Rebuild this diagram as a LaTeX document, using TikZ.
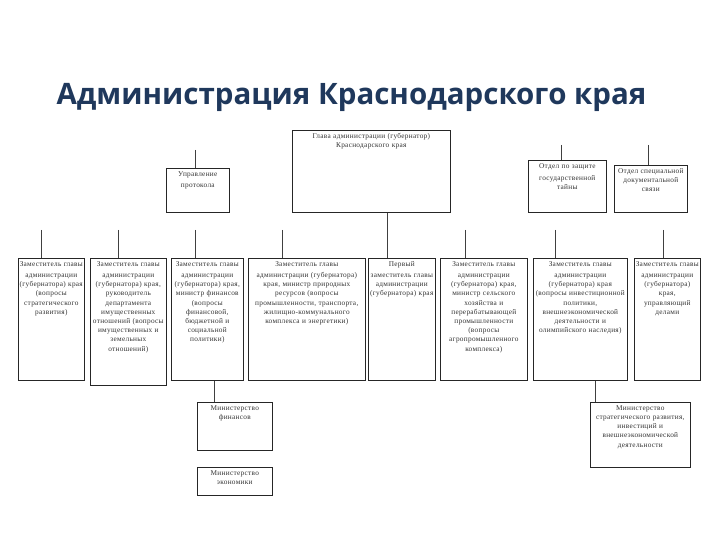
\documentclass[tikz,border=0pt]{standalone}
\usepackage{fontspec}
\setmainfont{Liberation Serif}[LetterSpace=4]
\newfontfamily\titlefont{Open Sans}
\newcommand{\bt}[2]{\parbox[t][#1pt][t]{\linewidth}{\centering\strut #2}}
\begin{document}
\begin{tikzpicture}[x=1pt,y=-1pt,
  bx/.style={draw=black!85,line width=0.6pt,anchor=north west,align=center,inner xsep=1pt,inner ysep=1.5pt,
    font=\fontsize{7.3}{9.2}\selectfont,text=black!80},
  ln/.style={draw=black!75,line width=0.7pt}]
\useasboundingbox (0,0) rectangle (720,540);
\node[anchor=west,font=\titlefont\bfseries\fontsize{29.5}{33}\selectfont,text={rgb,255:red,31;green,56;blue,92}] (title) at (53,97) {Администрация Краснодарского края};
% head
\node[bx,text width=156] (head) at (292,130) {\bt{79}{Глава администрации (губернатор)\\ Краснодарского края}};
% top small boxes
\node[bx,text width=61] (prot) at (166,168) {\bt{41}{\vspace{2pt}Управление\\протокола}};
\node[bx,text width=76] (tajna) at (528,160) {\bt{49}{\vspace{3pt}Отдел по защите государственной тайны}};
\node[bx,text width=71] (svyaz) at (614,165) {\bt{44}{Отдел специальной документальной связи}};
\coordinate (cp) at (195,150); \coordinate (ct) at (561,145); \coordinate (cs) at (648,145);
\draw[ln] (cp) -- (prot.north -| cp);
\draw[ln] (ct) -- (tajna.north -| ct);
\draw[ln] (cs) -- (svyaz.north -| cs);
% row
\node[bx,text width=64] (z1) at (18,258) {\bt{119}{\vspace{2pt}Заместитель главы администрации (губернатора) края (вопросы стратегического развития)}};
\node[bx,text width=74] (z2) at (90,258) {\bt{124}{\vspace{2pt}Заместитель главы администрации (губернатора) края, руководитель департамента имущественных отношений (вопросы имущественных и земельных отношений)}};
\node[bx,text width=70] (z3) at (171,258) {\bt{119}{\vspace{2pt}Заместитель главы администрации (губернатора) края, министр финансов (вопросы финансовой, бюджетной и социальной политики)}};
\node[bx,text width=115] (z4) at (248,258) {\bt{119}{\vspace{2pt}Заместитель главы администрации (губернатора) края, министр природных ресурсов (вопросы промышленности, транспорта, жилищно-коммунального комплекса и энергетики)}};
\node[bx,text width=65] (z5) at (368,258) {\bt{119}{\vspace{2pt}Первый заместитель главы администрации (губернатора) края}};
\node[bx,text width=85] (z6) at (440,258) {\bt{119}{\vspace{2pt}Заместитель главы администрации (губернатора) края, министр сельского хозяйства и перерабатывающей промышленности (вопросы агропромышленного комплекса)}};
\node[bx,text width=92] (z7) at (533,258) {\bt{119}{\vspace{2pt}Заместитель главы администрации (губернатора) края (вопросы инвестиционной политики, внешнеэкономической деятельности и олимпийского наследия)}};
\node[bx,text width=64] (z8) at (634,258) {\bt{119}{\vspace{2pt}Заместитель главы администрации (губернатора) края, управляющий делами}};
\foreach \n/\x in {z1/41,z2/118,z3/195,z4/282,z6/465,z7/555,z8/663}{
  \coordinate (c\n) at (\x,230);
  \draw[ln] (c\n) -- (\n.north -| c\n);}
\draw[ln] (head.south -| 387,0) -- (z5.north -| 387,0);
% ministries
\node[bx,text width=73] (minfin) at (197,402) {\bt{45}{Министерство\\финансов}};
\node[bx,text width=73] (mineco) at (197,467) {\bt{25}{Министерство\\экономики}};
\node[bx,text width=98] (minstr) at (590,402) {\bt{62}{Министерство стратегического развития, инвестиций и внешнеэкономической деятельности}};
\draw[ln] (z3.south -| 214,0) -- (minfin.north -| 214,0);
\draw[ln] (z7.south -| 595,0) -- (minstr.north -| 595,0);
\end{tikzpicture}
\end{document}
